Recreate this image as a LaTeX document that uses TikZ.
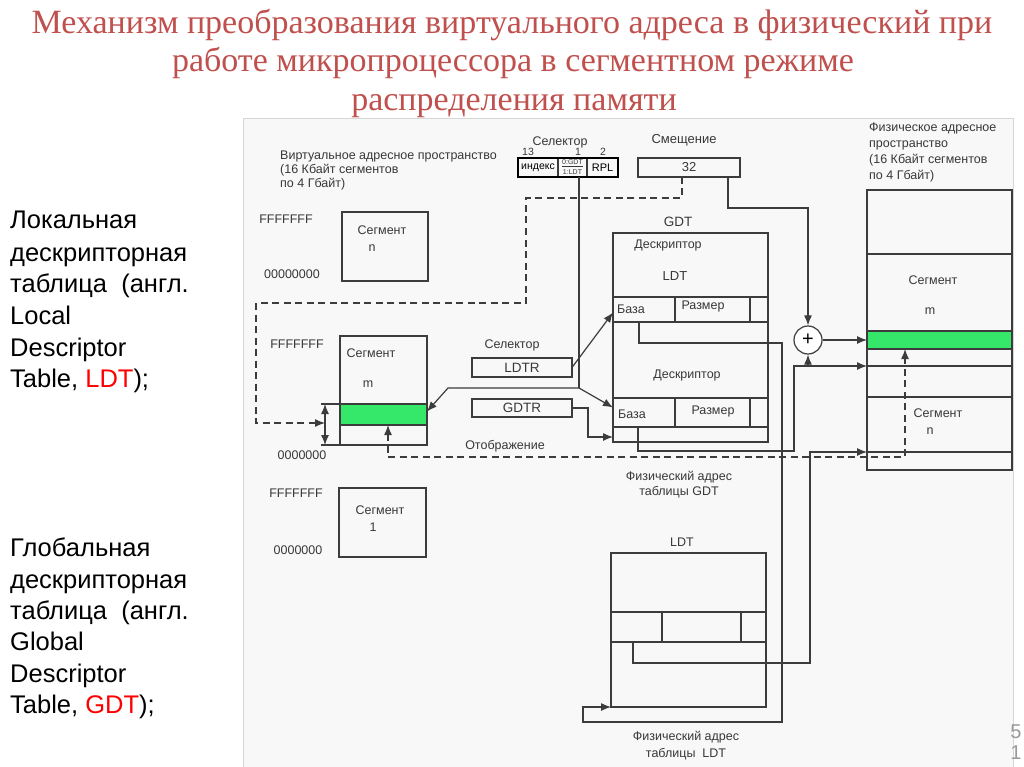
\documentclass[tikz,border=0pt]{standalone}
\usepackage{fontspec}
\setmainfont{Liberation Sans}
\newfontfamily\ttl{Liberation Serif}
\usetikzlibrary{arrows.meta,calc}
\definecolor{ttlred}{HTML}{C0504D}
\definecolor{linec}{HTML}{3C3C3C}
\definecolor{txtc}{HTML}{383838}
\definecolor{grn}{HTML}{36E86A}
\definecolor{bgc}{HTML}{F8F8F8}
\definecolor{bdc}{HTML}{D6D6D6}
\definecolor{pgc}{HTML}{9A9A9A}
\begin{document}
\begin{tikzpicture}[x=1pt,y=-1pt,
  ln/.style={draw=linec, line width=1.2pt},
  bx/.style={ln, inner sep=0pt, outer sep=0pt, anchor=north west},
  tip/.style={-{Latex[length=10pt,width=8pt]}},
  arr/.style={ln, tip},
  dsh/.style={ln, dash pattern=on 7pt off 4.5pt, line width=1.3pt},
  dt/.style={font=\fontsize{12.5}{14}\selectfont, text=txtc, inner sep=0pt},
  lt/.style={font=\fontsize{25.5}{30}\selectfont, inner sep=0pt, anchor=base west},
  tt/.style={font=\ttl\fontsize{34}{40}\selectfont, text=ttlred, inner sep=0pt, anchor=base}
]
\useasboundingbox (0,0) rectangle (1024,767);
\fill[white] (0,0) rectangle (1024,767);
\draw[draw=bdc, fill=bgc, line width=0.8pt] (243,118) rectangle (1013,770);

% title
\node[tt] (ti1) at (512,34) {Механизм преобразования виртуального адреса в физический при};
\node[tt] (ti2) at (513,72) {работе микропроцессора в сегментном режиме};
\node[tt] (ti3) at (514,111) {распределения памяти};

% left text
\node[lt] (a1) at (10,229) {Локальная};
\node[lt] (a2) at (10,261) {дескрипторная};
\node[lt] (a3) at (10,292) {таблица\ \ (англ.};
\node[lt] (a4) at (10,324) {Local};
\node[lt] (a5) at (10,356) {Descriptor};
\node[lt] (a6) at (10,387) {Table, \textcolor{red}{LDT});};
\node[lt] (b1) at (10,556) {Глобальная};
\node[lt] (b2) at (10,588) {дескрипторная};
\node[lt] (b3) at (10,619) {таблица\ \ (англ.};
\node[lt] (b4) at (10,650) {Global};
\node[lt] (b5) at (10,682) {Descriptor};
\node[lt] (b6) at (10,713) {Table, \textcolor{red}{GDT});};

% page number
\node[font=\fontsize{20}{20}\selectfont, text=pgc, inner sep=0pt] (pn1) at (1016,732) {5};
\node[font=\fontsize{20}{20}\selectfont, text=pgc, inner sep=0pt] (pn2) at (1016,753) {1};

% virtual space text
\node[dt, align=left, anchor=north west, font=\fontsize{12.5}{14}\selectfont] (vtxt) at (280,151) {Виртуальное адресное пространство\\(16 Кбайт сегментов\\по 4 Гбайт)};
\node[dt, align=left, anchor=north west, font=\fontsize{12.5}{16}\selectfont] (ptxt) at (869,123) {Физическое адресное\\пространство\\(16 Кбайт сегментов\\по 4 Гбайт)};

% virtual segments
\node[bx, minimum width=86pt, minimum height=69pt] (segN) at (342,212) {};
\node[dt] (segNt) at (382,230) {Сегмент};
\node[dt] (segNn) at (372,248) {n};
\node[dt] (fN) at (286,219) {FFFFFFF};
\node[dt] (zN) at (292,274) {00000000};

\node[bx, minimum width=87pt, minimum height=109pt] (segM) at (340,336) {};
\node[bx, fill=grn, minimum width=87pt, minimum height=21pt] (segMg) at (340,404) {};
\node[dt] (segMt) at (371,353) {Сегмент};
\node[dt] (segMm) at (368,384) {m};
\node[dt] (fM) at (297,344) {FFFFFFF};
\node[dt] (zM) at (302,455) {0000000};

\node[bx, minimum width=87pt, minimum height=69pt] (seg1) at (339,488) {};
\node[dt] (seg1t) at (380,510) {Сегмент};
\node[dt] (seg1n) at (373,527) {1};
\node[dt] (f1) at (296,493) {FFFFFFF};
\node[dt] (z1) at (298,550) {0000000};

% selector
\node[dt] (selL) at (560,142) {Селектор};
\node[dt, font=\fontsize{10.5}{10}\selectfont] (n13) at (528,151.5) {13};
\node[dt, font=\fontsize{10.5}{10}\selectfont] (n1) at (578,151.5) {1};
\node[dt, font=\fontsize{10.5}{10}\selectfont] (n2) at (603,151.5) {2};
\node[bx, minimum width=40pt, minimum height=19pt, font=\fontsize{10.5}{10}\selectfont] (selIdx) at (518,158) {индекс};
\node[bx, minimum width=29pt, minimum height=19pt] (selTI) at (558,158) {};
\node[bx, minimum width=31pt, minimum height=19pt, font=\fontsize{11}{10}\selectfont] (selRPL) at (587,158) {RPL};
\draw[line width=2pt, black] (selIdx.north west) rectangle (selRPL.south east);
\node[dt, font=\fontsize{7}{7}\selectfont] (tiA) at (572.5,163) {\underline{0:GDT}};
\node[dt, font=\fontsize{7}{7}\selectfont] (tiB) at (572.5,172) {1:LDT};

% offset
\node[dt, font=\fontsize{13}{14}\selectfont] (offL) at (684,140) {Смещение};
\node[bx, line width=1.5pt, minimum width=102pt, minimum height=19pt, font=\fontsize{13}{14}\selectfont, text=txtc] (off) at (638,158) {32};

% GDT
\node[dt, font=\fontsize{13.5}{14}\selectfont] (gdtL) at (678,222) {GDT};
\node[bx, minimum width=155pt, minimum height=209pt] (gdt) at (613,233) {};
\node[dt] (gd1) at (668,245) {Дескриптор};
\node[dt, font=\fontsize{13}{14}\selectfont] (gd2) at (675,276) {LDT};
\node[bx, minimum width=62pt, minimum height=25pt] (base1) at (613,297) {};
\node[bx, minimum width=75pt, minimum height=25pt] (size1) at (675,297) {};
\node[bx, minimum width=18pt, minimum height=25pt] (ex1) at (750,297) {};
\node[dt, anchor=west] (base1t) at (617,309) {База};
\node[dt] (size1t) at (703,306) {Размер};
\node[dt] (gd3) at (687,375) {Дескриптор};
\node[bx, minimum width=62pt, minimum height=29pt] (base2) at (613,398) {};
\node[bx, minimum width=75pt, minimum height=29pt] (size2) at (675,398) {};
\node[bx, minimum width=18pt, minimum height=29pt] (ex2) at (750,398) {};
\node[dt, anchor=west] (base2t) at (618,414) {База};
\node[dt] (size2t) at (713,411) {Размер};

% LDTR / GDTR
\node[dt] (selL2) at (512,345) {Селектор};
\node[bx, minimum width=100pt, minimum height=19pt, font=\fontsize{13.5}{14}\selectfont, text=txtc] (ldtr) at (472,358) {LDTR};
\node[bx, minimum width=100pt, minimum height=18pt, font=\fontsize{13.5}{14}\selectfont, text=txtc] (gdtr) at (472,399) {GDTR};

\node[dt] (otob) at (505,446) {Отображение};
\node[dt, align=center, font=\fontsize{12.5}{15}\selectfont] (fag) at (679,484.5) {Физический адрес\\таблицы GDT};

% LDT
\node[dt, font=\fontsize{12.5}{14}\selectfont] (ldtL) at (682,542) {LDT};
\node[bx, minimum width=155pt, minimum height=154pt] (ldt) at (611,553) {};
\node[bx, minimum width=51pt, minimum height=30pt] (lb) at (611,612) {};
\node[bx, minimum width=79pt, minimum height=30pt] (lm) at (662,612) {};
\node[bx, minimum width=25pt, minimum height=30pt] (lr) at (741,612) {};
\node[dt, align=center, font=\fontsize{12.5}{17}\selectfont] (fal) at (686,746) {Физический адрес\\таблицы\ \ LDT};

% physical space
\node[bx, minimum width=145pt, minimum height=64pt] (pTop) at (867,190) {};
\node[bx, minimum width=145pt, minimum height=77pt] (pSegM) at (867,254) {};
\node[bx, fill=grn, minimum width=145pt, minimum height=18pt] (pG) at (867,331) {};
\node[bx, minimum width=145pt, minimum height=17pt] (p4) at (867,349) {};
\node[bx, minimum width=145pt, minimum height=31pt] (p5) at (867,366) {};
\node[bx, minimum width=145pt, minimum height=55pt] (pSegN) at (867,397) {};
\node[bx, minimum width=145pt, minimum height=18pt] (p7) at (867,452) {};
\node[dt] (pmt) at (933,280) {Сегмент};
\node[dt] (pmm) at (930,311) {m};
\node[dt] (pnt) at (938,413) {Сегмент};
\node[dt] (pnn) at (930,431) {n};

% adder
\node[circle, ln, fill=white, minimum size=28pt, inner sep=0pt, font=\fontsize{20}{20}\selectfont] (plus) at (808,340) {+};

% connectors
\coordinate (oA) at (728,208);
\draw[arr] (off.south -| oA) -- (oA) -| (plus.north);
\draw[arr] (plus.east) -- (pG.west);

\coordinate (d1) at (682,198);
\coordinate (d2) at (526,303);
\coordinate (d3) at (256,423);
\coordinate (dbl) at (325,423);
\draw[dsh, tip] (off.south -| d1) -- (d1) -| (d2) -| (d3) -- (dbl);

\coordinate (dbT) at (325,404);
\coordinate (dbB) at (325,445);
\draw[ln, {Latex[length=10pt,width=8pt]}-{Latex[length=10pt,width=8pt]}] (dbT) -- (dbB);
\draw[ln] ([xshift=-4pt]dbT) -- (segMg.north west);
\draw[ln] ([xshift=-4pt]dbB) -- (segM.south west);

\coordinate (fork) at (579,388);
\coordinate (f2) at (448,388);
\draw[ln] (selTI.south -| fork) -- (fork);
\draw[arr] (fork) -- (f2) -- ([yshift=3pt]segMg.east);
\draw[arr] (fork) -- ([yshift=5pt]base2.west);

\draw[arr] (ldtr.east) -- ([yshift=-3pt]base1.west);

\coordinate (g1) at (588,437);
\draw[arr] (gdtr.east) -| (g1) -- (g1 -| gdt.west);

\coordinate (b1a) at (639,343);
\coordinate (b1b) at (782,722);
\coordinate (b1c) at (583,707);
\draw[arr] (base1.south -| b1a) -- (b1a) -| (b1b) -| (b1c) -- (ldt.south west);

\coordinate (b2a) at (638,451);
\coordinate (b2b) at (794,366);
\coordinate (b2c) at (808,366);
\draw[arr] (base2.south -| b2a) -- (b2a) -| (b2b) -- (p5.north west);
\draw[arr] (b2c) -- (plus.south);

\coordinate (l1) at (633,663);
\coordinate (l2) at (810,452);
\draw[arr] (lb.south -| l1) -- (l1) -| (l2) -- (pSegN.south west);

\coordinate (m1) at (388,457);
\coordinate (m2) at (905,457);
\draw[dsh, {Latex[length=10pt,width=8pt]}-{Latex[length=10pt,width=8pt]}] (segMg.south -| m1) -- (m1) -- (m2) -- (pG.south -| m2);
\end{tikzpicture}
\end{document}
